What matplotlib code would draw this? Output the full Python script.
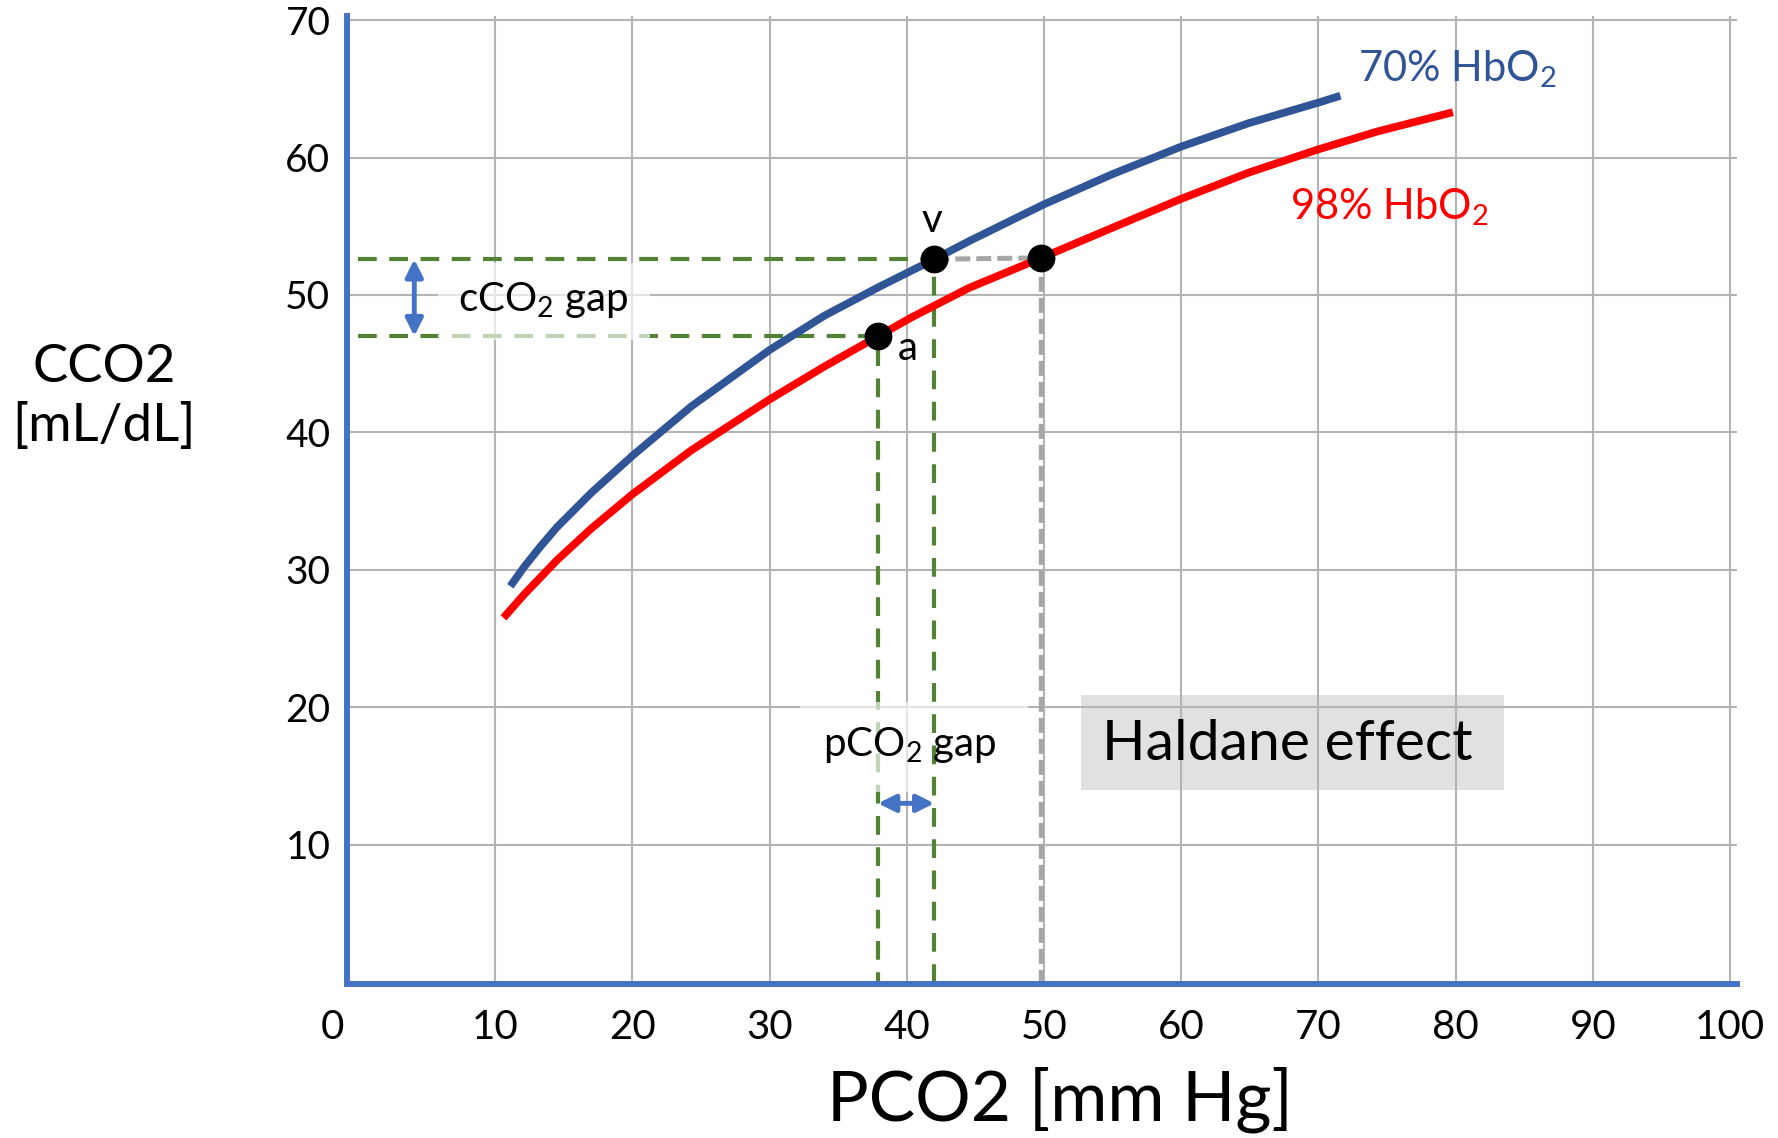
import matplotlib
matplotlib.use("Agg")
import matplotlib.pyplot as plt
from matplotlib.patches import Rectangle
from matplotlib.transforms import ScaledTranslation

plt.rcParams['font.family'] = ['Lato', 'DejaVu Sans']

# curves (PCO2 mmHg, CCO2 mL/dL)
blue_x = [11.1, 12.1, 13.3, 14.5, 17.0, 20.0, 24.3, 30.0, 34.0, 38.0, 42.0,
          44.5, 50.0, 55.0, 60.0, 64.9, 70.0, 71.6]
blue_y = [28.8, 30.2, 31.7, 33.1, 35.6, 38.3, 41.9, 46.0, 48.5, 50.6, 52.6,
          53.9, 56.6, 58.8, 60.8, 62.5, 64.0, 64.5]
red_x = [10.6, 12.1, 14.5, 17.0, 20.0, 24.3, 30.0, 34.0, 37.9, 40.4, 44.5,
         49.8, 55.0, 60.0, 64.9, 70.0, 74.3, 79.8]
red_y = [26.5, 28.2, 30.7, 33.0, 35.5, 38.7, 42.4, 44.8, 47.0, 48.4, 50.5,
         52.7, 54.9, 57.0, 58.9, 60.6, 61.9, 63.3]

# marked points
a_point = (37.9, 47.0)
v_point = (42.0, 52.6)
h_point = (49.8, 52.7)

x_ticks = list(range(0, 101, 10))
y_ticks = list(range(10, 71, 10))

BLUE = '#2F5597'
RED = '#FF0000'
GREEN = '#548235'
GRAY = '#A6A6A6'
ARROW = '#4472C4'

fig = plt.figure(figsize=(17.78, 11.38), dpi=100)
ax = fig.add_axes([0.1952, 0.1353, 0.9769 - 0.1952, 0.9859 - 0.1353])

ax.set_xticks(x_ticks)
ax.set_yticks(y_ticks)
ax.set_xlim(-0.8, 100.5)
ax.set_ylim(-0.15, 70.3)
ax.grid(color='#B4B4B4', lw=1.5, zorder=0)
ax.xaxis.get_gridlines()[0].set_visible(False)
ax.set_axisbelow(True)
ax.tick_params(axis='both', length=0)
ax.tick_params(axis='x', labelsize=29, pad=18)
ax.tick_params(axis='y', labelsize=28, pad=12)

# the "0" label sits left of the axis line in the original
zero_lbl = ax.xaxis.get_major_ticks()[0].label1
zero_lbl.set_transform(zero_lbl.get_transform()
                       + ScaledTranslation(-0.26, 0, fig.dpi_scale_trans))

for s in ['top', 'right']:
    ax.spines[s].set_visible(False)
for s in ['left', 'bottom']:
    ax.spines[s].set_color('#4472C4')
    ax.spines[s].set_linewidth(4.3)
    ax.spines[s].set_zorder(6)

# haldane box sits under the grid
ax.add_patch(Rectangle((52.7, 14.0), 30.8, 6.9, facecolor='#E1E1E1',
                       edgecolor='none', zorder=-1))
ax.text(54.2, 17.25, 'Haldane effect', fontsize=41, va='center', ha='left', zorder=7)

# arterial dashed guides
ax.plot([0, a_point[0], a_point[0]], [a_point[1], a_point[1], 0],
        color=GREEN, lw=3.0, dashes=(4.5, 3), zorder=2)

# semi-transparent label backgrounds
ax.add_patch(Rectangle((5.8, 46.7), 15.5, 5.6, facecolor='white',
                       edgecolor='none', alpha=0.65, zorder=3))
ax.add_patch(Rectangle((32.2, 13.8), 16.6, 6.6, facecolor='white',
                       edgecolor='none', alpha=0.65, zorder=3))

# venous dashed guides
ax.plot([0, v_point[0], v_point[0]], [v_point[1], v_point[1], 0],
        color=GREEN, lw=3.0, dashes=(4.5, 3), zorder=4)
ax.plot([v_point[0], h_point[0], h_point[0]], [v_point[1], h_point[1], 0],
        color=GRAY, lw=3.6, dashes=(3, 1.2), zorder=4)

ax.plot(blue_x, blue_y, color=BLUE, lw=5.6, solid_capstyle='butt',
        solid_joinstyle='round', zorder=5)
ax.plot(red_x, red_y, color=RED, lw=5.6, solid_capstyle='butt',
        solid_joinstyle='round', zorder=5)

pts = [a_point, v_point, h_point]
ax.plot([p[0] for p in pts], [p[1] for p in pts], 'o', color='black',
        markersize=19, zorder=6)

arrow = dict(arrowstyle='<|-|>', color=ARROW, lw=3.5, mutation_scale=26,
             shrinkA=0, shrinkB=0)
ax.annotate('', xy=(4.1, v_point[1]), xytext=(4.1, a_point[1]),
            arrowprops=arrow, zorder=7)
ax.annotate('', xy=(a_point[0], 13.0), xytext=(v_point[0], 13.0),
            arrowprops=arrow, zorder=7)

ax.text(7.3, 49.6, r'cCO$\mathregular{_2}$ gap', fontsize=29, va='center', ha='left', zorder=7)
ax.text(33.9, 17.25, r'pCO$\mathregular{_2}$ gap', fontsize=29, va='center', ha='left', zorder=7)
ax.text(72.9, 66.4, r'70% HbO$\mathregular{_2}$', fontsize=30, color=BLUE,
        va='center', ha='left', zorder=7)
ax.text(67.9, 56.4, r'98% HbO$\mathregular{_2}$', fontsize=30, color=RED,
        va='center', ha='left', zorder=7)
ax.text(41.8, 55.4, 'v', fontsize=29, va='center', ha='center', zorder=7)
ax.text(40.1, 46.1, 'a', fontsize=29, va='center', ha='center', zorder=7)

fig.text(1060 / 1778, 1 - 1100 / 1138, 'PCO2 [mm Hg]', fontsize=50,
         ha='center', va='center')
fig.text(104 / 1778, 1 - 397 / 1138, 'CCO2\n[mL/dL]', fontsize=38,
         ha='center', va='center', linespacing=1.3)

fig.savefig('out.png', dpi=100)
